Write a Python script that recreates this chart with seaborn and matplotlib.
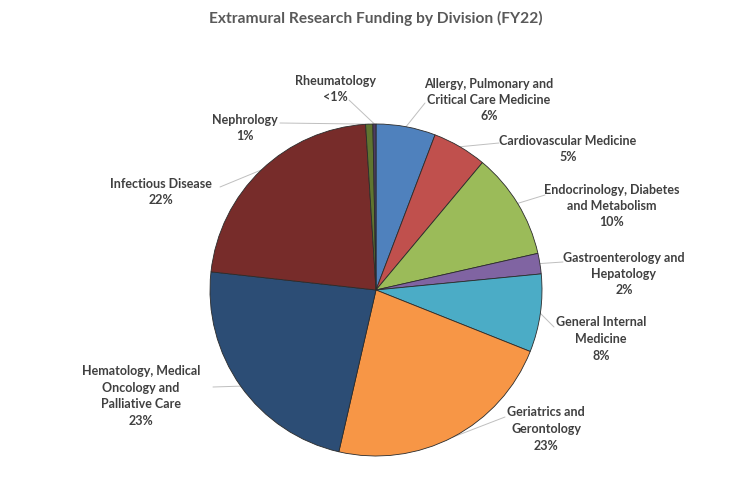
import numpy as np
import seaborn as sns
import matplotlib.pyplot as plt

# data (percent of total funding, clockwise from 12 o'clock)
divisions = [
    'Allergy, Pulmonary and\nCritical Care Medicine',
    'Cardiovascular Medicine',
    'Endocrinology, Diabetes\nand Metabolism',
    'Gastroenterology and\nHepatology',
    'General Internal\nMedicine',
    'Geriatrics and\nGerontology',
    'Hematology, Medical\nOncology and\nPalliative Care',
    'Infectious Disease',
    'Nephrology',
    'Rheumatology',
]
shares = [5.8, 5.3, 10.4, 2.0, 7.6, 22.6, 23.2, 22.3, 0.7, 0.3]
pct_labels = ['6%', '5%', '10%', '2%', '8%', '23%', '23%', '22%', '1%', '<1%']
colors = ['#4F81BD', '#C0504D', '#9BBB59', '#8064A2', '#4BACC6',
          '#F79646', '#2C4D75', '#772C2A', '#5F7530', '#4D3B62']

# label layout in figure pixels: text block centre, leader line start
label_pos = [(489, 100), (568, 149), (612, 206), (624, 274), (601, 339),
             (546, 429), (141, 396), (161, 192), (245, 128), (335, 89)]
leader_start = [(425, 103), (499, 143), (545, 195), (563, 262), (554, 327),
                (505, 417), (213, 387), (220, 187), (280, 123), (349, 100)]

sns.set_theme(style='white')
plt.rcParams['font.family'] = ['Lato', 'DejaVu Sans']

W, H = 750, 478
cx, cy, r = 376, 290, 166
fig = plt.figure(figsize=(W / 100, H / 100), dpi=100)
ax = fig.add_axes([(cx - r) / W, (H - cy - r) / H, 2 * r / W, 2 * r / H])

pal = sns.color_palette(colors)
wedges, _ = ax.pie(shares, colors=pal, startangle=90, counterclock=False,
                   wedgeprops=dict(edgecolor='#2b2b2b', linewidth=0.6))
ax.set_xlim(-1, 1)
ax.set_ylim(-1, 1)
ax.set_aspect('equal')
ax.axis('off')


def to_data(px, py):
    return (px - cx) / r, (cy - py) / r


txt_color = '#404040'
for w, name, pct, pos, start in zip(wedges, divisions, pct_labels, label_pos, leader_start):
    tx, ty = to_data(*pos)
    ax.text(tx, ty, name + '\n' + pct, ha='center', va='center',
            multialignment='center', fontsize=9, fontweight='bold',
            color=txt_color, linespacing=1.45, clip_on=False)
    mid = np.deg2rad((w.theta1 + w.theta2) / 2)
    sx, sy = to_data(*start)
    ax.plot([sx, np.cos(mid)], [sy, np.sin(mid)], color='#bfbfbf',
            lw=0.7, clip_on=False, zorder=0)

fig.text(cx / W, 1 - 18 / H, 'Extramural Research Funding by Division (FY22)',
         ha='center', va='center', fontsize=11.2, fontweight='bold', color='#595959')

fig.savefig('out.png', dpi=100)
